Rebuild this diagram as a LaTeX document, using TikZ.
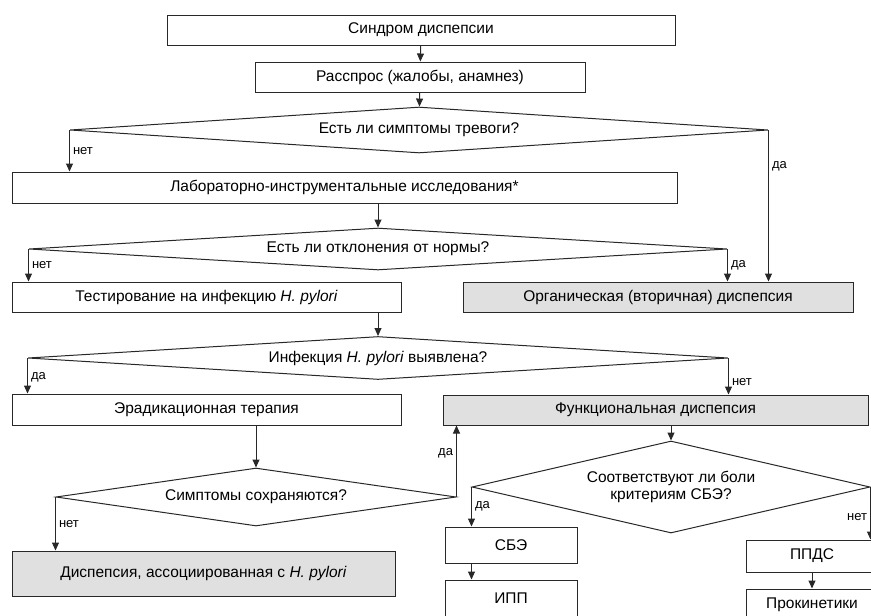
\documentclass[tikz,border=0pt]{standalone}
\usepackage{fontspec}
\setmainfont{Liberation Sans}
\usetikzlibrary{arrows.meta,shapes.geometric}

\definecolor{boxgray}{RGB}{224,224,224}
\definecolor{linegray}{RGB}{40,40,40}

\begin{document}
\begin{tikzpicture}[x=1pt, y=-1pt,
    font=\fontsize{15.5}{17}\selectfont,
    line width=1pt,
    stepbox/.style={rectangle, draw=linegray, inner sep=0pt, minimum height=30pt},
    grayfill/.style={fill=boxgray},
    question/.style={diamond, draw=linegray, inner sep=0pt},
    arr/.style={draw=linegray, -{Triangle[length=8pt, width=7pt]}},
    yesno/.style={font=\fontsize{13}{15}\selectfont, inner sep=3pt}]
    \clip (0,0) rectangle (871,616);

    \node[stepbox, minimum width=508pt] (Syndrome) at (421, 30) {Синдром диспепсии};
    \node[stepbox, minimum width=330pt] (Anamnesis) at (420, 77) {Расспрос (жалобы, анамнез)};
    \node[question, minimum width=698pt, minimum height=46pt, aspect=15] (Alarm) at (419, 130) {Есть ли симптомы тревоги?};
    \node[stepbox, minimum width=665pt, minimum height=31pt] (Lab) at (344.5, 187.5) {Лабораторно-инструментальные исследования*};
    \node[question, minimum width=698pt, minimum height=42pt, aspect=16] (Norm) at (378, 249) {Есть ли отклонения от нормы?};
    \node[stepbox, minimum width=389pt] (HP_test) at (206.5, 297) {Тестирование на инфекцию \textit{H. pylori}};
    \node[stepbox, grayfill, minimum width=390pt] (Organic) at (658, 297) {Органическая (вторичная) диспепсия};
    \node[question, minimum width=700pt, minimum height=43pt, aspect=16] (HP_found) at (378, 358) {Инфекция \textit{H. pylori} выявлена?};
    \node[stepbox, minimum width=389pt, minimum height=31pt] (Eradication) at (206.5, 409.5) {Эрадикационная терапия};
    \node[stepbox, grayfill, minimum width=425pt] (Functional) at (655.5, 410) {Функциональная диспепсия};
    \node[question, minimum width=400pt, minimum height=58pt, aspect=7] (Persist) at (256, 497) {Симптомы сохраняются?};
    \node[stepbox, grayfill, minimum width=383pt, minimum height=45pt] (HP_assoc) at (203.5, 573.5) {Диспепсия, ассоциированная с \textit{H. pylori}};
    \node[question, minimum width=398pt, minimum height=92pt, aspect=4.3, align=center] (IBS) at (671, 487) {Соответствуют ли боли\\критериям СБЭ?};
    \node[stepbox, minimum width=132pt, minimum height=36pt] (SBE) at (511, 545) {СБЭ};
    \node[stepbox, minimum width=132pt, minimum height=36pt] (IPP) at (511, 598) {ИПП};
    \node[stepbox, minimum width=132pt, minimum height=32pt] (PPDS) at (812, 556) {ППДС};
    \node[stepbox, minimum width=132pt, minimum height=32pt] (Prokin) at (812, 605) {Прокинетики};

    \draw[arr] (Syndrome) -- (Anamnesis);
    \draw[arr] (Anamnesis) -- (Alarm);
    \draw[arr] (Alarm.west) -- node[yesno, right] {нет} (Alarm.west |- Lab.north);
    \draw[arr] (Alarm.east) -- node[yesno, right, pos=0.24] {да} (Alarm.east |- Organic.north);
    \draw[arr] (Norm.north |- Lab.south) -- (Norm.north);
    \draw[arr] (Norm.west) -- node[yesno, right] {нет} (Norm.west |- HP_test.north);
    \draw[arr] (Norm.east) -- node[yesno, right] {да} (Norm.east |- Organic.north);
    \draw[arr] (HP_found.north |- HP_test.south) -- (HP_found.north);
    \draw[arr] (HP_found.west) -- node[yesno, right, pos=0.55] {да} (HP_found.west |- Eradication.north);
    \draw[arr] (HP_found.east) -- node[yesno, right, pos=0.65] {нет} (HP_found.east |- Functional.north);
    \draw[arr] (Persist.north |- Eradication.south) -- (Persist.north);
    \draw[arr] (Persist.west) -- node[yesno, right] {нет} (Persist.west |- HP_assoc.north);
    \draw[arr] (Persist.east) -- node[yesno, left, pos=0.61] {да} (Persist.east |- Functional.south);
    \draw[arr] (IBS.north |- Functional.south) -- (IBS.north);
    \draw[arr] (IBS.west) -- node[yesno, right] {да} (IBS.west |- SBE.north);
    \draw[arr] (SBE.south -| IBS.west) -- (IPP.north -| IBS.west);
    \draw[arr] (IBS.east) -- node[yesno, left, pos=0.58] {нет} (IBS.east |- PPDS.north);
    \draw[arr] (PPDS) -- (Prokin);

\end{tikzpicture}
\end{document}
